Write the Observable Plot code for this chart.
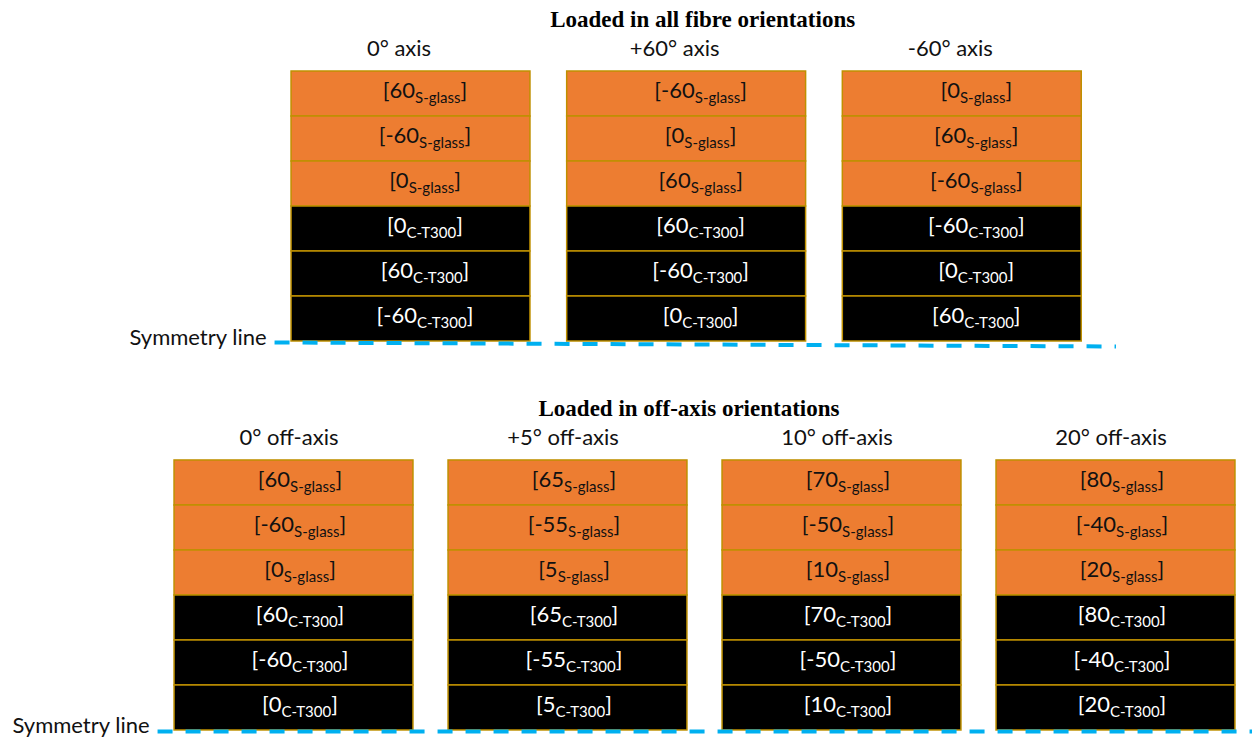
<!DOCTYPE html>
<html><head><meta charset="utf-8">
<script src="https://cdn.jsdelivr.net/npm/d3@7"></script>
<script src="https://cdn.jsdelivr.net/npm/@observablehq/plot@0.6"></script>
<style>body{margin:0;background:#fff}</style>
</head><body><div id="chart"></div>
<script>
// ---------- data ----------
const panelTitles = ["Loaded in all fibre orientations", "Loaded in off-axis orientations"];
const topHeaders = ["0° axis", "+60° axis", "-60° axis"];
const topStacks = [
  [60, -60, 0, 0, 60, -60],
  [-60, 0, 60, 60, -60, 0],
  [0, 60, -60, -60, 0, 60]
];
const bottomHeaders = ["0° off-axis", "+5° off-axis", "10° off-axis", "20° off-axis"];
const bottomStacks = [
  [60, -60, 0, 60, -60, 0],
  [65, -55, 5, 65, -55, 5],
  [70, -50, 10, 70, -50, 10],
  [80, -40, 20, 80, -40, 20]
];
const plyMaterials = ["S-glass", "S-glass", "S-glass", "C-T300", "C-T300", "C-T300"];
const materialColors = ["#ED7D31", "#000000"];
const symmetryLabel = "Symmetry line";

// ---------- layout (column / row units) ----------
const W = 1252, H = 737;
const topShift = 0.427;      // top panel column offset
const topStep = 1.006;       // top panel column spacing
const bottomShift = 8.644;   // bottom panel row offset
const HALF = 0.436;          // half box width in column units

const rows = [];
topStacks.forEach((angles, c) => angles.forEach((a, r) =>
  rows.push({panel: 0, col: c, row: r, angle: a, material: plyMaterials[r]})));
bottomStacks.forEach((angles, c) => angles.forEach((a, r) =>
  rows.push({panel: 1, col: c, row: r, angle: a, material: plyMaterials[r]})));

const cx = d => d.panel === 0 ? topShift + d.col * topStep : d.col;
const ry = d => d.row + (d.panel === 0 ? 0 : bottomShift);

const headers = [
  ...topHeaders.map((t, c) => ({panel: 0, col: c, text: t})),
  ...bottomHeaders.map((t, c) => ({panel: 1, col: c, text: t}))
];
const titles = panelTitles.map((t, p) => ({panel: p, text: t,
  col: p === 0 ? (topStacks.length - 1) / 2 : (bottomStacks.length - 1) / 2}));

const sym = [
  {panel: 0, x1: topShift - HALF - 0.062, x2: topShift + (topStacks.length - 1) * topStep + HALF + 0.125, y1: 6.022, y2: 6.111},
  {panel: 1, x1: -HALF - 0.062, x2: 3.5, y1: bottomShift + 6.02, y2: bottomShift + 6.02}
];

const sans = "Lato, 'Open Sans', sans-serif";
const labelText = d => `[${d.angle}|${d.material}|]`;
const labelMark = (panel, glass, dx) => Plot.text(
  rows.filter(d => d.panel === panel && (d.material === "S-glass") === glass),
  {x: cx, y: d => ry(d) + 0.5, text: labelText, fill: glass ? "#111" : "white",
   fontSize: 22, fontFamily: sans, dy: -3, dx});

const chart = Plot.plot({
  width: W, height: H,
  margin: 0,
  x: {domain: [-1.0712, 3.4982], range: [0, W], axis: null},
  y: {domain: [-71 / 45, (H - 71) / 45], range: [0, H], axis: null},
  color: {domain: plyMaterials.filter((m, i, a) => a.indexOf(m) === i), range: materialColors},
  marks: [
    Plot.rect(rows, {x1: d => cx(d) - HALF, x2: d => cx(d) + HALF, y1: ry, y2: d => ry(d) + 1,
      fill: "material", stroke: "#BF9000", strokeWidth: 1.5}),
    labelMark(0, true, 14), labelMark(0, false, 14),
    labelMark(1, true, 6), labelMark(1, false, 6),
    Plot.text(headers.filter(d => d.panel === 0), {x: d => topShift + d.col * topStep, y: -0.5,
      text: "text", fontSize: 22, fontFamily: sans, fill: "#111", dx: -12}),
    Plot.text(headers.filter(d => d.panel === 1), {x: "col", y: bottomShift - 0.5,
      text: "text", fontSize: 22, fontFamily: sans, fill: "#111", dx: -5}),
    Plot.text(titles.filter(d => d.panel === 0), {x: d => topShift + d.col * topStep, y: -1.156, text: "text", dx: 16,
      fontSize: 23, fontWeight: "bold", fontFamily: "'Liberation Serif', serif", fill: "#000"}),
    Plot.text(titles.filter(d => d.panel === 1), {x: "col", y: bottomShift - 1.156, text: "text", dx: -16,
      fontSize: 23, fontWeight: "bold", fontFamily: "'Liberation Serif', serif", fill: "#000"}),
    Plot.link(sym, {x1: "x1", x2: "x2", y1: "y1", y2: "y2", stroke: "#00B0F0", strokeWidth: 4,
      strokeDasharray: "15,13"}),
    Plot.text(sym, {x: "x1", y: "y1", text: () => symmetryLabel, textAnchor: "end", dx: -8, dy: -5,
      fontSize: 22, fontFamily: sans, fill: "#111"})
  ]
});

// subscripts for ply labels
const ns = "http://www.w3.org/2000/svg";
chart.querySelectorAll("text").forEach(t => {
  const parts = t.textContent.split("|");
  if (parts.length !== 3) return;
  while (t.firstChild) t.removeChild(t.firstChild);
  const a = document.createElementNS(ns, "tspan"); a.textContent = parts[0];
  const b = document.createElementNS(ns, "tspan"); b.textContent = parts[1];
  b.setAttribute("font-size", "15"); b.setAttribute("dy", "5");
  const c = document.createElementNS(ns, "tspan"); c.textContent = parts[2];
  c.setAttribute("dy", "-5");
  t.append(a, b, c);
});

document.getElementById("chart").append(chart);
</script>
</body></html>
